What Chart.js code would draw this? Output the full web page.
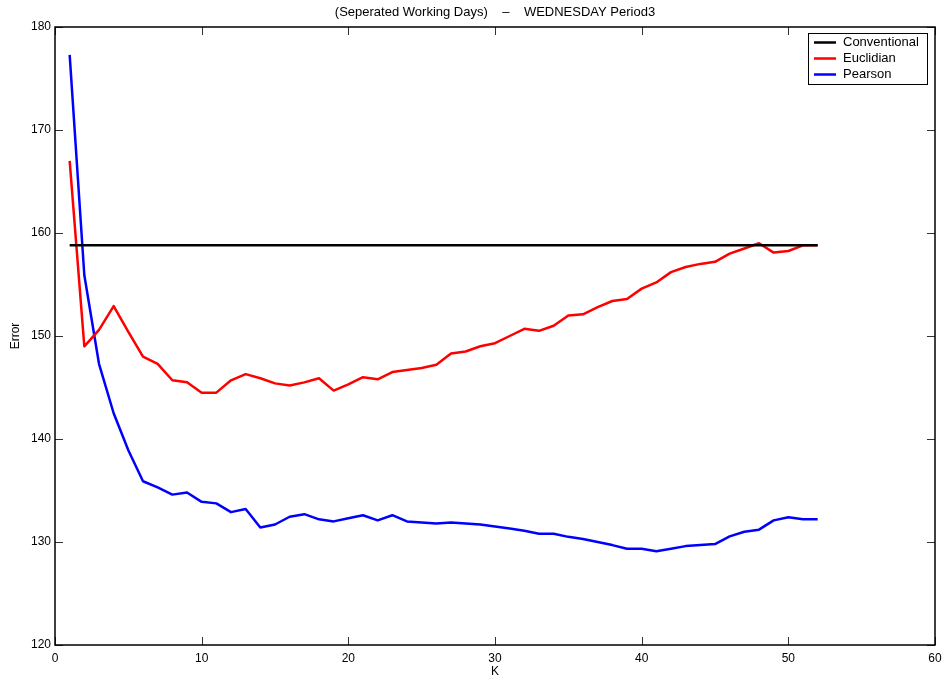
<!DOCTYPE html>
<html>
<head>
<meta charset="utf-8">
<script src="https://cdn.jsdelivr.net/npm/chart.js@4/dist/chart.umd.min.js"></script>
<style>
  html, body { margin: 0; padding: 0; background: #fff; }
  #wrap { width: 949px; height: 681px; }
</style>
</head>
<body>
<div id="wrap"><canvas id="c" width="949" height="681"></canvas></div>
<script>
// K values (number of neighbours)
const kValues = [1,2,3,4,5,6,7,8,9,10,11,12,13,14,15,16,17,18,19,20,21,22,23,24,25,26,
  27,28,29,30,31,32,33,34,35,36,37,38,39,40,41,42,43,44,45,46,47,48,49,50,51,52];

// Error of the conventional method (constant over K)
const conventionalK = [1, 52];
const conventional = [158.8, 158.8];

// Error using Euclidian distance
const euclidian = [167.0,149.0,150.6,152.9,150.4,148.0,147.3,145.7,145.5,144.5,144.5,145.7,
  146.3,145.9,145.4,145.2,145.5,145.9,144.7,145.3,146.0,145.8,146.5,146.7,146.9,147.2,
  148.3,148.5,149.0,149.3,150.0,150.7,150.5,151.0,152.0,152.1,152.8,153.4,153.6,154.6,
  155.2,156.2,156.7,157.0,157.2,158.0,158.5,159.0,158.1,158.25,158.8,158.8];

// Error using Pearson correlation
const pearson = [177.3,155.9,147.3,142.5,138.9,135.9,135.3,134.6,134.8,133.9,133.75,132.9,
  133.2,131.4,131.7,132.45,132.7,132.2,132.0,132.3,132.6,132.1,132.6,132.0,131.9,131.8,
  131.9,131.8,131.7,131.5,131.3,131.1,130.8,130.8,130.5,130.3,130.0,129.7,129.35,129.35,
  129.1,129.35,129.6,129.7,129.8,130.55,131.0,131.2,132.1,132.4,132.2,132.2];

// Axis tick values
const xTicks = [0, 10, 20, 30, 40, 50, 60];
const yTicks = [120, 130, 140, 150, 160, 170, 180];

const titleText = '(Seperated Working Days)    \u2013    WEDNESDAY Period3';
const FONT = '"Liberation Sans", Arial, Helvetica, sans-serif';

const toPoints = (xs, ys) => xs.map((x, i) => ({ x: x, y: ys[i] }));

// Boxed axes with inward ticks on all four sides, title and an inset legend
const framePlugin = {
  id: 'frame',
  afterDraw(chart) {
    const { ctx, chartArea: a, scales } = chart;
    const xs = scales.x, ys = scales.y;
    ctx.save();
    // ticks
    ctx.strokeStyle = '#333';
    ctx.lineWidth = 1;
    const tl = 8;
    ctx.beginPath();
    xTicks.forEach(v => {
      const px = Math.round(xs.getPixelForValue(v)) + 0.5;
      ctx.moveTo(px, a.bottom); ctx.lineTo(px, a.bottom - tl);
      ctx.moveTo(px, a.top); ctx.lineTo(px, a.top + tl);
    });
    yTicks.forEach(v => {
      const py = Math.round(ys.getPixelForValue(v)) + 0.5;
      ctx.moveTo(a.left, py); ctx.lineTo(a.left + tl, py);
      ctx.moveTo(a.right, py); ctx.lineTo(a.right - tl, py);
    });
    ctx.stroke();
    // box
    ctx.strokeStyle = '#000';
    ctx.lineWidth = 1.5;
    ctx.strokeRect(a.left, a.top, a.right - a.left, a.bottom - a.top);

    // title
    ctx.fillStyle = '#000';
    ctx.font = '13px ' + FONT;
    ctx.textAlign = 'center';
    ctx.textBaseline = 'middle';
    ctx.fillText(titleText, (a.left + a.right) / 2, 12);

    // legend
    const lx = 808, ly = 33, lw = 119, lh = 51;
    ctx.fillStyle = '#fff';
    ctx.fillRect(lx, ly, lw, lh);
    ctx.strokeStyle = '#000';
    ctx.lineWidth = 1;
    ctx.strokeRect(lx + 0.5, ly + 0.5, lw, lh);
    ctx.font = '13px ' + FONT;
    ctx.textAlign = 'left';
    chart.data.datasets.forEach((ds, i) => {
      const y = ly + 9.5 + i * 16;
      ctx.strokeStyle = ds.borderColor;
      ctx.lineWidth = 2.5;
      ctx.beginPath();
      ctx.moveTo(lx + 6, y); ctx.lineTo(lx + 28, y);
      ctx.stroke();
      ctx.fillStyle = '#000';
      ctx.fillText(ds.label, lx + 35, y);
    });
    ctx.restore();
  }
};

new Chart(document.getElementById('c'), {
  type: 'line',
  data: {
    datasets: [
      { label: 'Conventional', data: toPoints(conventionalK, conventional), borderColor: '#000000', borderWidth: 2.5 },
      { label: 'Euclidian', data: toPoints(kValues, euclidian), borderColor: '#ff0000', borderWidth: 2.5 },
      { label: 'Pearson', data: toPoints(kValues, pearson), borderColor: '#0000ff', borderWidth: 2.5 }
    ]
  },
  options: {
    responsive: false,
    animation: false,
    events: [],
    layout: { padding: { top: 27, right: 14, bottom: 0, left: 0 } },
    elements: { point: { radius: 0 }, line: { tension: 0, borderJoinStyle: 'round' } },
    plugins: { legend: { display: false }, title: { display: false }, tooltip: { enabled: false } },
    scales: {
      x: {
        type: 'linear', min: 0, max: 60,
        afterBuildTicks: s => { s.ticks = xTicks.map(v => ({ value: v })); },
        afterFit: s => { s.height = 36; },
        grid: { display: false, drawTicks: false },
        border: { display: false },
        ticks: { color: '#000', padding: 6, font: { family: FONT, size: 12 }, maxRotation: 0 },
        title: { display: true, text: 'K', color: '#000', font: { family: FONT, size: 12 }, padding: { top: 0, bottom: 2 } }
      },
      y: {
        type: 'linear', min: 120, max: 180,
        afterBuildTicks: s => { s.ticks = yTicks.map(v => ({ value: v })); },
        afterFit: s => { s.width = 55; },
        grid: { display: false, drawTicks: false },
        border: { display: false },
        ticks: { color: '#000', padding: 4, font: { family: FONT, size: 12 } },
        title: { display: true, text: 'Error', color: '#000', font: { family: FONT, size: 12 }, padding: { top: 8, bottom: 0 } }
      }
    }
  },
  plugins: [framePlugin]
});
</script>
</body>
</html>
